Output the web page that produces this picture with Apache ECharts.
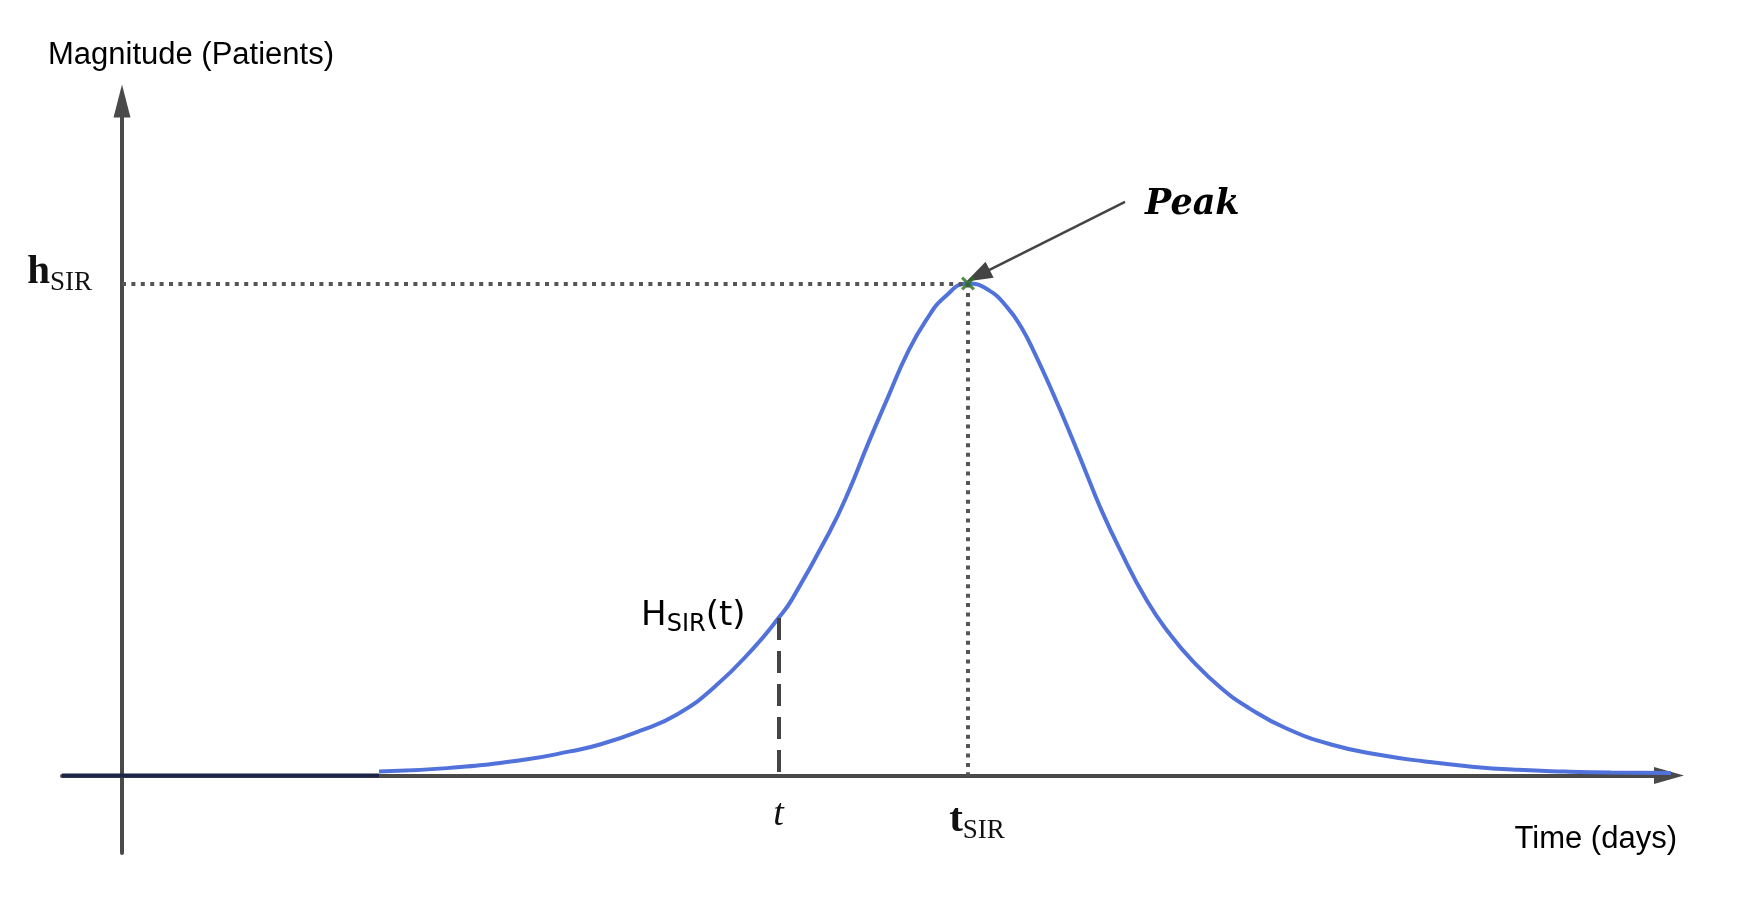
<!DOCTYPE html>
<html><head><meta charset="utf-8">
<script src="https://cdn.jsdelivr.net/npm/echarts@6/dist/echarts.min.js"></script>
<style>html,body{margin:0;padding:0;background:#fff}#c{width:1752px;height:924px}</style>
</head><body><div id="c"></div>
<script>
// ---- data (days on x, % of peak patients on y) ----
const days = [25.7, 32.5, 40.2, 44.8, 47.8, 51.7, 55.5, 59.3, 63.2, 65.65, 67.0, 70.8, 72.7, 74.6, 76.6, 78.5, 80.4, 82.3, 84.6, 86.7, 88.5, 89.9, 91.3, 93.2, 95.0, 96.4, 97.8, 99.7, 102.5, 104.8, 107.1, 109.9, 112.7, 116.4, 121.0, 125.7, 130.3, 135.0, 139.6, 144.3, 148.9, 156.2];
const patients = [0.8, 1.5, 3.2, 4.9, 6.3, 9.0, 12.4, 18.1, 26.0, 32.0, 35.8, 49.7, 57.9, 67.4, 76.9, 85.7, 92.5, 97.3, 100, 98.6, 95.2, 91.2, 85.7, 77.2, 68.6, 61.6, 54.6, 46.3, 35.5, 28.7, 23.2, 17.8, 13.7, 9.6, 6.25, 4.2, 2.85, 1.8, 1.15, 0.8, 0.6, 0.5];
const baselineDays = [-6, 25.7];
const baselineValues = [0, 0];
const tPoint = 65.65, tValue = 32.0;      // H_SIR(t)
const tSIR = 84.6, hSIR = 100;            // peak
const peakLabelAt = [100.3, 116.6];       // start of the "Peak" arrow
const peakArrowEnd = [85.6, 101.6];       // arrow head centre (tip lands on the peak)
const xRange = [-6, 154.7];
const yRange = [-15.75, 137.09];
const xTickValues = [tPoint, tSIR];
const yTickValues = [hSIR];
const axisNames = { x: 'Time (days)', y: 'Magnitude (Patients)' };

const curve = days.map((d, i) => [d, patients[i]]);
const baseline = baselineDays.map((d, i) => [d, baselineValues[i]]);

const serifMain = { fontFamily: 'Liberation Serif', fontWeight: 'bold', fontSize: 41, color: '#111' };
const serifSub = { fontFamily: 'Liberation Serif', fontSize: 27, color: '#111', padding: [21, 0, 0, 0] };
const dotted = { type: [4, 5.4], width: 4, color: '#555', cap: 'butt' };

const chart = echarts.init(document.getElementById('c'), null, { renderer: 'canvas' });
chart.setOption({
  animation: false,
  backgroundColor: '#fff',
  grid: { left: 62, right: 83, top: 101, bottom: 71, containLabel: false, outerBoundsMode: 'none' },
  xAxis: {
    type: 'value', min: xRange[0], max: xRange[1], offset: -77.5,
    name: axisNames.x, nameLocation: 'end', nameGap: 8, nameMoveOverlap: false,
    nameTextStyle: { fontFamily: 'Liberation Sans', fontSize: 31, color: '#000', align: 'right', verticalAlign: 'top', padding: [48, 0, 0, 0] },
    axisLine: { onZero: false, symbol: ['none', 'triangle'], symbolSize: [17, 30], lineStyle: { color: '#4a4a4a', width: 4 } },
    axisTick: { show: false }, splitLine: { show: false },
    axisLabel: {
      customValues: xTickValues, margin: 21,
      formatter: v => Math.abs(v - tPoint) < 0.01 ? '{i|t}' : '{g|}{b|t}{s|SIR}',
      rich: {
        i: { fontFamily: 'Liberation Serif', fontStyle: 'italic', fontSize: 38, color: '#111' },
        g: { width: 18 },
        b: serifMain, s: serifSub
      }
    }
  },
  yAxis: {
    type: 'value', min: yRange[0], max: yRange[1], offset: -60,
    name: axisNames.y, nameLocation: 'end', nameGap: 30, nameMoveOverlap: false,
    nameTextStyle: { fontFamily: 'Liberation Sans', fontSize: 31, color: '#000', padding: [0, 0, 0, 138] },
    axisLine: { onZero: false, symbol: ['none', 'triangle'], symbolSize: [17, 33], lineStyle: { color: '#4a4a4a', width: 4 } },
    axisTick: { show: false }, splitLine: { show: false },
    axisLabel: {
      customValues: yTickValues, margin: 30, padding: [0, 0, 22, 0],
      formatter: () => '{b|h}{s|SIR}',
      rich: { b: serifMain, s: serifSub }
    }
  },
  series: [
    {
      name: 'baseline', type: 'line', data: baseline, symbol: 'none', clip: false, z: 3,
      lineStyle: { color: '#1b2547', width: 4 }
    },
    {
      name: 'H_SIR', type: 'line', data: curve, symbol: 'none', smooth: 0.5, clip: false, z: 4,
      lineStyle: { color: '#5171db', width: 4 },
      markLine: {
        silent: true, symbol: ['none', 'none'], label: { show: false },
        data: [
          [{ coord: [0, hSIR], lineStyle: dotted }, { coord: [tSIR, hSIR] }],
          [{ coord: [tSIR, hSIR], lineStyle: dotted }, { coord: [tSIR, 0] }],
          [{ coord: [tPoint, tValue], lineStyle: { type: [22, 11], width: 4, color: '#444' } }, { coord: [tPoint, 0] }],
          [{ coord: peakLabelAt, lineStyle: { type: 'solid', width: 2.5, color: '#444' } },
           { coord: peakArrowEnd, symbol: 'triangle', symbolSize: [18, 26] }]
        ]
      },
      markPoint: {
        silent: true, symbol: 'circle', symbolSize: 0,
        data: [
          { coord: [tPoint, tValue], label: { show: true, position: 'left', distance: 33, offset: [0, -2],
              formatter: '{a|H}{s|SIR}{a|(t)}',
              rich: { a: { fontFamily: 'DejaVu Sans', fontSize: 34, color: '#000' },
                      s: { fontFamily: 'DejaVu Sans', fontSize: 24, color: '#000', padding: [17, 0, 0, 0] } } } },
          { coord: peakLabelAt, label: { show: true, position: 'right', distance: 20, offset: [0, 3], formatter: 'Peak',
              fontFamily: 'DejaVu Serif', fontWeight: 'bold', fontStyle: 'italic', fontSize: 35, color: '#000' } }
        ]
      }
    },
    {
      name: 'peak', type: 'scatter', data: [[tSIR, hSIR]], z: 6,
      symbol: 'path://M0,1.6L1.6,0L5,3.4L8.4,0L10,1.6L6.6,5L10,8.4L8.4,10L5,6.6L1.6,10L0,8.4L3.4,5Z',
      symbolSize: 14, itemStyle: { color: '#2b6e1e' }, silent: true
    }
  ]
});
</script></body></html>
